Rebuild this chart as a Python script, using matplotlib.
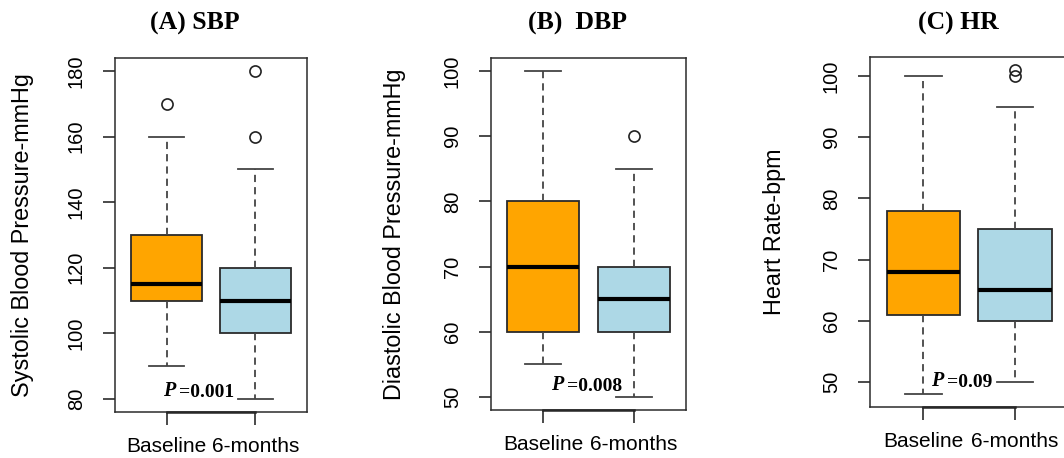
import matplotlib
matplotlib.use("Agg")
import matplotlib.pyplot as plt

plt.rcParams['font.family'] = ['Liberation Sans', 'DejaVu Sans']

# box statistics
groups = ['Baseline', '6-months']
colors = ['#FFA500', '#ADD8E6']

sbp_q1 = [110, 100]
sbp_med = [115, 110]
sbp_q3 = [130, 120]
sbp_lo = [90, 80]
sbp_hi = [160, 150]
sbp_out = [[170], [160, 180]]

dbp_q1 = [60, 60]
dbp_med = [70, 65]
dbp_q3 = [80, 70]
dbp_lo = [55, 50]
dbp_hi = [100, 85]
dbp_out = [[], [90]]

hr_q1 = [61, 60]
hr_med = [68, 65]
hr_q3 = [78, 75]
hr_lo = [48, 50]
hr_hi = [100, 95]
hr_out = [[], [100, 101]]

titles = ['(A) SBP', '(B)  DBP', '(C) HR']
ylabels = ['Systolic Blood Pressure-mmHg', 'Diastolic Blood Pressure-mmHg', 'Heart Rate-bpm']
yticks = [[80, 100, 120, 140, 160, 180], [50, 60, 70, 80, 90, 100], [50, 60, 70, 80, 90, 100]]
pvals = ['0.001', '0.008', '0.09']

W, H = 1064, 458
fig = plt.figure(figsize=(W / 100, H / 100), dpi=100)


def add_ax(l, r, t, b):
    return fig.add_axes([l / W, 1 - b / H, (r - l) / W, (b - t) / H])


# pixel boxes of each panel (the last one runs off the right edge)
boxes = [(115, 307, 58, 412), (491, 686, 58, 410), (870, 1068, 57, 407)]
title_x = [195, 578, 958]
ylab_x = [23, 395, 775]
p_pos = [(0.96, 81.0), (1.09, 51.1), (1.09, 49.3)]

data = [
    (sbp_q1, sbp_med, sbp_q3, sbp_lo, sbp_hi, sbp_out),
    (dbp_q1, dbp_med, dbp_q3, dbp_lo, dbp_hi, dbp_out),
    (hr_q1, hr_med, hr_q3, hr_lo, hr_hi, hr_out),
]

edge = '#2b2b2b'
for i, (q1, med, q3, lo, hi, out) in enumerate(data):
    ax = add_ax(*boxes[i])
    stats = []
    for j in range(2):
        stats.append(dict(q1=q1[j], med=med[j], q3=q3[j], whislo=lo[j], whishi=hi[j], fliers=out[j]))
    bp = ax.bxp(stats, positions=[1, 2], widths=0.8, patch_artist=True,
                boxprops=dict(edgecolor=edge, linewidth=1.3),
                medianprops=dict(color='black', linewidth=3),
                whiskerprops=dict(color='#444444', linewidth=1.3, linestyle=(0, (4, 2.8))),
                capprops=dict(color='#444444', linewidth=1.3),
                flierprops=dict(marker='o', markerfacecolor='none', markeredgecolor='#222222',
                                markersize=8, markeredgewidth=1.2))
    for patch, c in zip(bp['boxes'], colors):
        patch.set_facecolor(c)

    # R-style limits: 4% padding around the data range
    allv = lo + hi + [v for o in out for v in o]
    vmin, vmax = min(allv), max(allv)
    pad = (vmax - vmin) * 0.04
    ax.set_ylim(vmin - pad, vmax + pad)
    ax.set_xlim(0.42, 2.58)

    ax.set_yticks(yticks[i])
    ax.set_yticklabels([str(v) for v in yticks[i]], rotation=90, va='center', fontsize=14.5)
    ax.set_xticks([1, 2])
    ax.set_xticklabels(groups, fontsize=15)
    ax.tick_params(axis='both', direction='out', length=9, width=1.2, color=edge)
    ax.tick_params(axis='y', pad=12)
    ax.tick_params(axis='x', pad=9)
    for s in ax.spines.values():
        s.set_color(edge)
        s.set_linewidth(1.1)

    # axis line between the two ticks
    ax.plot([1, 2], [0, 0], transform=ax.get_xaxis_transform(), color='#222222',
            linewidth=1.8, clip_on=False)

    ax.set_ylabel(ylabels[i], fontsize=16.8, va='center')
    l, r, t, b = boxes[i]
    ax.yaxis.set_label_coords((ylab_x[i] - l) / (r - l), 0.5)

    fig.text(title_x[i] / W, 1 - 23 / H, titles[i], ha='center', va='center',
             fontsize=18.5, fontweight='bold', family='Liberation Serif')

    px, py = p_pos[i]
    tp = ax.text(px, py, 'P', fontsize=14.5, fontweight='bold', fontstyle='italic',
                 family='Liberation Serif', ha='left', va='baseline')
    ax.annotate('=' + pvals[i], xy=(1, 0), xycoords=tp, xytext=(2.5, 0),
                textcoords='offset points', ha='left', va='bottom',
                fontsize=14, fontweight='bold', family='Liberation Serif')

fig.savefig('out.png', dpi=100)
